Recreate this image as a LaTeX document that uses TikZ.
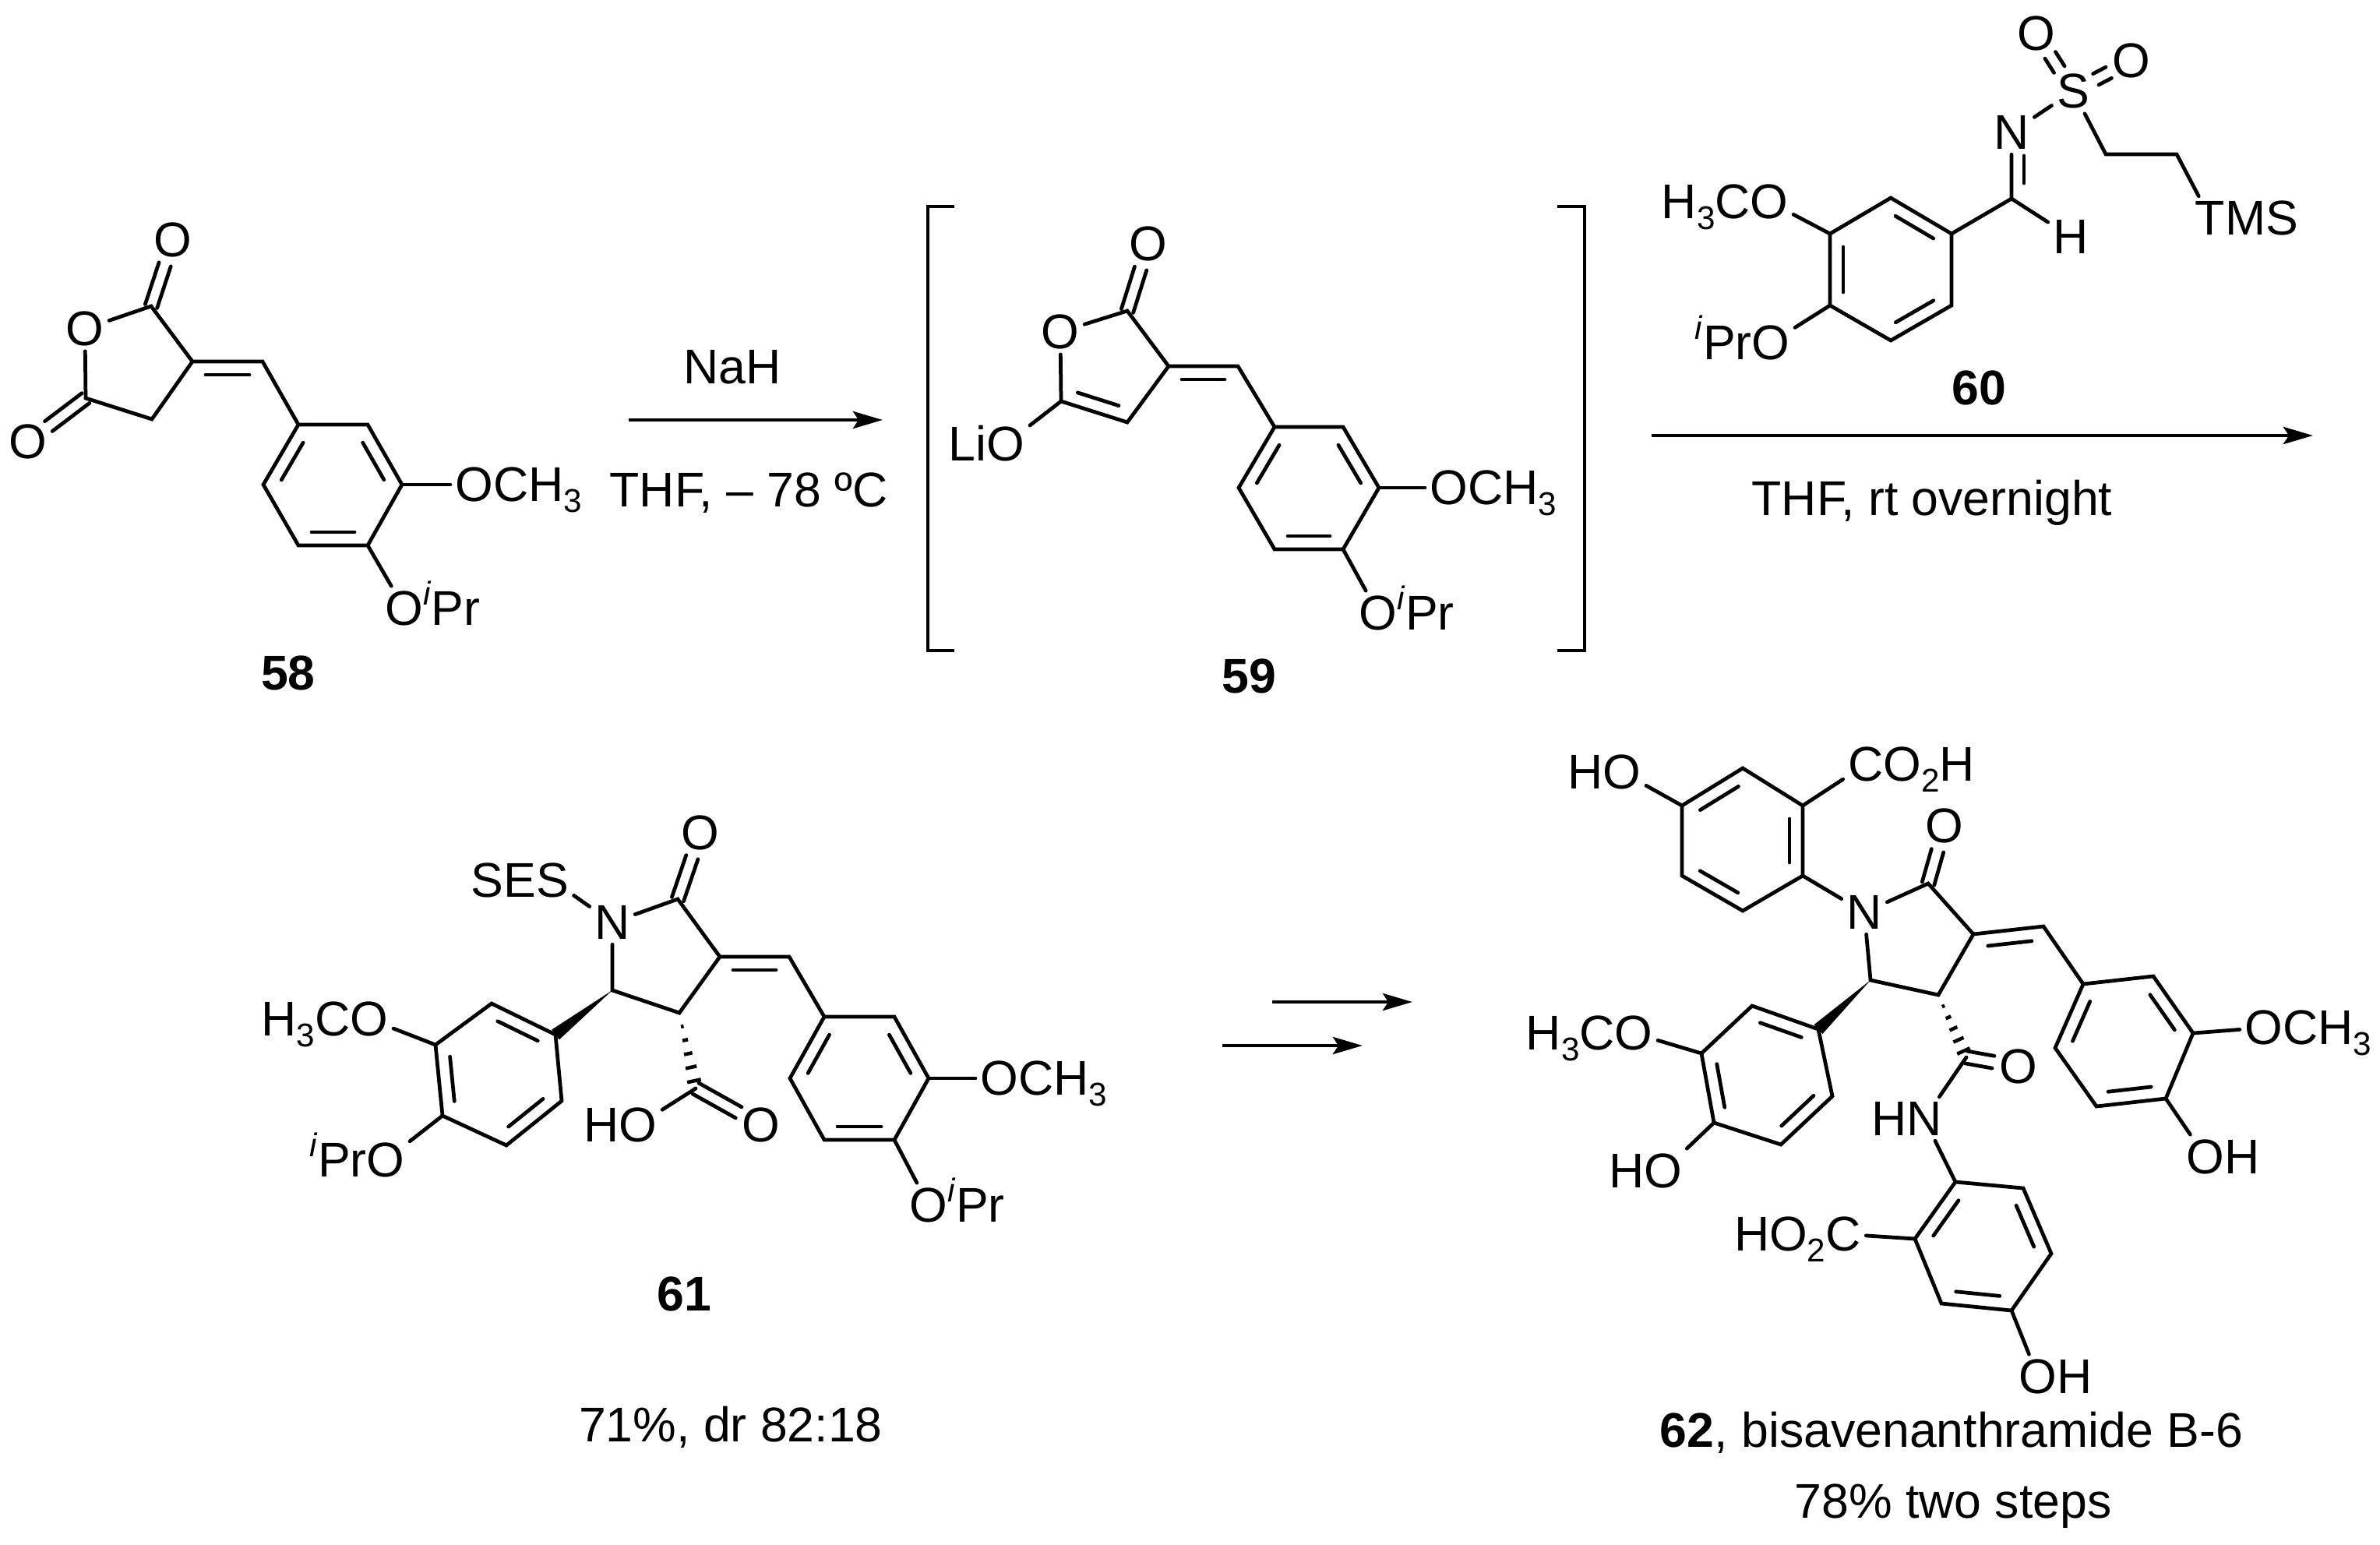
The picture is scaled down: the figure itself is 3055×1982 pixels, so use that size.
\documentclass[tikz,border=0pt]{standalone}
\usepackage{fontspec}
\setmainfont{Liberation Sans}
\usetikzlibrary{arrows.meta}
\usetikzlibrary{calc}
\newcommand{\chemsub}[1]{\raisebox{-.22em}{\fontsize{12}{14}\selectfont #1}}
\newcommand{\chemsup}[1]{\raisebox{.42em}{\fontsize{12}{14}\selectfont\itshape #1\kern.03em}}
\newcommand{\tailr}[1]{\smash{\rlap{#1}}}
\newcommand{\taill}[1]{\smash{\llap{#1}}}
\newcommand{\sidebond}[4][]{\draw[bond,#1] ($(#2)!#4!90:(#3)$) -- ($(#3)!#4!-90:(#2)$);}
\newcommand{\innerbond}[2]{\sidebond[shorten <=.17cm,shorten >=.17cm]{#1}{#2}{-.17cm}}
\newcommand{\twobond}[3][]{\sidebond[shorten >=.33cm,#1]{#2}{#3}{.08cm}\sidebond[shorten >=.33cm,#1]{#2}{#3}{-.08cm}}
\newcommand{\wedgebond}[2]{\fill ($(#2)!.08cm!90:(#1)$) -- ($(#2)!.08cm!-90:(#1)$) -- (#1) -- cycle;}
\newcommand{\hashbond}[2]{\foreach \pos in {.18,.36,.54,.72,.9}
  \draw[line width=1.3pt] ($(#1)!\pos!(#2)!\pos*0.1cm!90:(#2)$) -- ($(#1)!\pos!(#2)!\pos*0.1cm!-90:(#2)$);}
\tikzset{bond/.style = {line width=1.35pt, line cap=round},
         atom/.style = {inner sep=.06cm},
         txt/.style = {inner sep=0pt, anchor=base},
         cmpd/.style = {inner sep=0pt, font=\fontsize{17.8}{20}\selectfont\bfseries},
         brack/.style = {line width=1.35pt},
         rxn/.style = {line width=1.35pt, -{Stealth[length=.38cm,width=.22cm,inset=.07cm]}}}

\begin{document}
\begin{tikzpicture}[x=.01cm, y=-.01cm, font=\fontsize{17.8}{20}\selectfont]
  \useasboundingbox (0,0) rectangle (3055,1982);

  % 58
  \coordinate (a1) at (383,545); \coordinate (a2) at (472,545); \coordinate (a3) at (516,622);
  \coordinate (a4) at (472,700); \coordinate (a5) at (383,700); \coordinate (a6) at (338,622);
  \coordinate (ac2) at (194,393); \coordinate (ac3) at (247,464); \coordinate (ach) at (337,464);
  \coordinate (ac4) at (195,538); \coordinate (ac5) at (110,511);
  \node [atom] (ao1) at (222,308) {O};
  \node [atom] (ao2) at (109,422) {O};
  \node [atom] (ao3) at (36,567) {O};
  \node [atom] (ao4) at (609,622) {O\tailr{CH\chemsub{3}}};
  \node [atom] (ao5) at (519,781) {O\tailr{\chemsup{i}Pr}};
  \draw [bond] (a1) -- (a2) -- (a3) -- (a4) -- (a5) -- (a6) -- cycle;
  \innerbond{a2}{a3} \innerbond{a4}{a5} \innerbond{a6}{a1}
  \draw [bond] (ao2) -- (ac2) -- (ac3) -- (ac4) -- (ac5) -- (ao2);
  \draw [bond] (ac3) -- (ach) -- (a1);
  \innerbond{ac3}{ach}
  \twobond{ac2}{ao1} \twobond{ac5}{ao3}
  \draw [bond] (a3) -- (ao4);
  \draw [bond] (a4) -- (ao5);
  \node [cmpd] (n58) at (370,864) {58};

  % first arrow
  \coordinate (r1s) at (807,539); \coordinate (r1e) at (1133,539);
  \draw [rxn] (r1s) -- (r1e);
  \node [txt] (nah) at (940,492) {NaH};
  \node [txt] (thf1) at (961,650) {THF, – 78 ºC};

  % 59
  \coordinate (bl1) at (1225,265); \coordinate (bl2) at (1191,265);
  \coordinate (bl3) at (1191,835); \coordinate (bl4) at (1225,835);
  \coordinate (br1) at (1999,265); \coordinate (br2) at (2034,265);
  \coordinate (br3) at (2034,835); \coordinate (br4) at (1999,835);
  \draw [brack] (bl1) -- (bl2) -- (bl3) -- (bl4);
  \draw [brack] (br1) -- (br2) -- (br3) -- (br4);
  \coordinate (b1) at (1636,548); \coordinate (b2) at (1724,548); \coordinate (b3) at (1770,626);
  \coordinate (b4) at (1724,705); \coordinate (b5) at (1636,705); \coordinate (b6) at (1590,626);
  \coordinate (bc2) at (1447,399); \coordinate (bc3) at (1500,470); \coordinate (bch) at (1589,470);
  \coordinate (bc4) at (1447,542); \coordinate (bc5) at (1362,515);
  \node [atom] (bo1) at (1474,313) {O};
  \node [atom] (bo2) at (1361,426) {O};
  \node [atom] (bo3) at (1291,570) {\taill{Li}O};
  \node [atom] (bo4) at (1860,626) {O\tailr{CH\chemsub{3}}};
  \node [atom] (bo5) at (1769,787) {O\tailr{\chemsup{i}Pr}};
  \draw [bond] (b1) -- (b2) -- (b3) -- (b4) -- (b5) -- (b6) -- cycle;
  \innerbond{b2}{b3} \innerbond{b4}{b5} \innerbond{b6}{b1}
  \draw [bond] (bo2) -- (bc2) -- (bc3) -- (bc4) -- (bc5) -- (bo2);
  \draw [bond] (bc3) -- (bch) -- (b1);
  \innerbond{bc3}{bch} \innerbond{bc4}{bc5}
  \twobond{bc2}{bo1}
  \draw [bond] (bc5) -- (bo3);
  \draw [bond] (b3) -- (bo4);
  \draw [bond] (b4) -- (bo5);
  \node [cmpd] (n59) at (1603,868) {59};

  % 60 and second arrow
  \coordinate (c1) at (2427,254); \coordinate (c2) at (2505,300); \coordinate (c3) at (2505,392);
  \coordinate (c4) at (2427,437); \coordinate (c5) at (2349,392); \coordinate (c6) at (2349,300);
  \coordinate (cim) at (2582,255); \coordinate (ce1) at (2703,198); \coordinate (ce2) at (2794,198);
  \node [atom] (cn) at (2582,170) {N};
  \node [atom] (cs) at (2661,117) {S};
  \node [atom] (co1) at (2614,43) {O};
  \node [atom] (co2) at (2736,78) {O};
  \node [atom] (ch) at (2658,304) {H};
  \node [atom] (ct) at (2837,280) {T\tailr{MS}};
  \node [atom] (co3) at (2271,259) {\taill{H\chemsub{3}C}O};
  \node [atom] (co4) at (2273,440) {\taill{\chemsup{i}Pr}O};
  \draw [bond] (c1) -- (c2) -- (c3) -- (c4) -- (c5) -- (c6) -- cycle;
  \innerbond{c1}{c2} \innerbond{c3}{c4} \innerbond{c5}{c6}
  \draw [bond] (c2) -- (cim) -- (cn) -- (cs) -- (ce1) -- (ce2) -- (ct);
  \sidebond[shorten <=.2cm,shorten >=.3cm]{cim}{cn}{-.16cm}
  \draw [bond] (cim) -- (ch);
  \twobond[shorten <=.33cm]{cs}{co1} \twobond[shorten <=.33cm]{cs}{co2}
  \draw [bond] (c6) -- (co3);
  \draw [bond] (c5) -- (co4);
  \node [cmpd] (n60) at (2540,498) {60};
  \coordinate (r2s) at (2120,559); \coordinate (r2e) at (2969,559);
  \draw [rxn] (r2s) -- (r2e);
  \node [txt] (thf2) at (2480,661) {THF, rt overnight};

  % 61
  \coordinate (da1) at (713,1328); \coordinate (da2) at (721,1413); \coordinate (da3) at (650,1470);
  \coordinate (da4) at (568,1432); \coordinate (da5) at (559,1341); \coordinate (da6) at (631,1288);
  \coordinate (db1) at (1058,1305); \coordinate (db2) at (1148,1305); \coordinate (db3) at (1192,1384);
  \coordinate (db4) at (1148,1463); \coordinate (db5) at (1058,1463); \coordinate (db6) at (1014,1384);
  \coordinate (dc2) at (870,1154); \coordinate (dc3) at (924,1228); \coordinate (dch) at (1013,1228);
  \coordinate (dc4) at (872,1300); \coordinate (dc5) at (786,1271); \coordinate (dcx) at (893,1397);
  \node [atom] (dn) at (786,1184) {N};
  \node [atom] (do1) at (899,1069) {O};
  \node [atom] (ds) at (709,1130) {\taill{SE}S};
  \node [atom] (do2) at (474,1308) {\taill{H\chemsub{3}C}O};
  \node [atom] (do3) at (495,1489) {\taill{\chemsup{i}Pr}O};
  \node [atom] (do4) at (819,1444) {\taill{H}O};
  \node [atom] (do5) at (977,1444) {O};
  \node [atom] (do6) at (1283,1384) {O\tailr{CH\chemsub{3}}};
  \node [atom] (do7) at (1192,1547) {O\tailr{\chemsup{i}Pr}};
  \draw [bond] (da1) -- (da2) -- (da3) -- (da4) -- (da5) -- (da6) -- cycle;
  \innerbond{da2}{da3} \innerbond{da4}{da5} \innerbond{da6}{da1}
  \draw [bond] (db1) -- (db2) -- (db3) -- (db4) -- (db5) -- (db6) -- cycle;
  \innerbond{db2}{db3} \innerbond{db4}{db5} \innerbond{db6}{db1}
  \draw [bond] (dn) -- (dc2) -- (dc3) -- (dc4) -- (dc5) -- (dn);
  \draw [bond] (dc3) -- (dch) -- (db1);
  \innerbond{dc3}{dch}
  \twobond{dc2}{do1}
  \draw [bond] (dn) -- (ds);
  \wedgebond{dc5}{da1}
  \hashbond{dc4}{dcx}
  \draw [bond] (dcx) -- (do4);
  \twobond{dcx}{do5}
  \draw [bond] (da5) -- (do2);
  \draw [bond] (da4) -- (do3);
  \draw [bond] (db3) -- (do6);
  \draw [bond] (db4) -- (do7);
  \node [cmpd] (n61) at (878,1661) {61};
  \node [txt] (yield61) at (938,1850) {71\%, dr 82:18};

  % two arrows
  \coordinate (r3s) at (1633,1286); \coordinate (r3e) at (1813,1286);
  \coordinate (r4s) at (1569,1342); \coordinate (r4e) at (1749,1342);
  \draw [rxn] (r3s) -- (r3e);
  \draw [rxn] (r4s) -- (r4e);

  % 62
  \coordinate (ea1) at (2237,986); \coordinate (ea2) at (2314,1034); \coordinate (ea3) at (2314,1124);
  \coordinate (ea4) at (2237,1169); \coordinate (ea5) at (2159,1124); \coordinate (ea6) at (2159,1034);
  \coordinate (eb1) at (2334,1321); \coordinate (eb2) at (2352,1407); \coordinate (eb3) at (2286,1469);
  \coordinate (eb4) at (2200,1441); \coordinate (eb5) at (2184,1352); \coordinate (eb6) at (2249,1291);
  \coordinate (ed1) at (2674,1263); \coordinate (ed2) at (2764,1253); \coordinate (ed3) at (2815,1326);
  \coordinate (ed4) at (2780,1410); \coordinate (ed5) at (2691,1420); \coordinate (ed6) at (2638,1345);
  \coordinate (ef1) at (2510,1517); \coordinate (ef2) at (2597,1525); \coordinate (ef3) at (2633,1609);
  \coordinate (ef4) at (2582,1682); \coordinate (ef5) at (2492,1673); \coordinate (ef6) at (2458,1590);
  \coordinate (ec2) at (2475,1134); \coordinate (ec3) at (2533,1199); \coordinate (ech) at (2623,1189);
  \coordinate (ec4) at (2488,1277); \coordinate (ec5) at (2401,1258); \coordinate (ecx) at (2524,1357);
  \node [atom] (en1) at (2393,1171) {N};
  \node [atom] (eo1) at (2496,1060) {O};
  \node [atom] (eo2) at (2082,991) {\taill{H}O};
  \node [atom] (ec1) at (2395,981) {C\tailr{O\chemsub{2}H}};
  \node [atom] (eo3) at (2097,1326) {\taill{H\chemsub{3}C}O};
  \node [atom] (eo4) at (2135,1503) {\taill{H}O};
  \node [atom] (eo5) at (2591,1369) {O};
  \node [atom] (en2) at (2470,1436) {\taill{H}N};
  \node [atom] (eo6) at (2906,1319) {O\tailr{CH\chemsub{3}}};
  \node [atom] (eo7) at (2831,1485) {O\tailr{H}};
  \node [atom] (ec6) at (2366,1584) {\taill{HO\chemsub{2}}C};
  \node [atom] (eo8) at (2616,1767) {O\tailr{H}};
  \draw [bond] (ea1) -- (ea2) -- (ea3) -- (ea4) -- (ea5) -- (ea6) -- cycle;
  \innerbond{ea2}{ea3} \innerbond{ea4}{ea5} \innerbond{ea6}{ea1}
  \draw [bond] (eb1) -- (eb2) -- (eb3) -- (eb4) -- (eb5) -- (eb6) -- cycle;
  \innerbond{eb2}{eb3} \innerbond{eb4}{eb5} \innerbond{eb6}{eb1}
  \draw [bond] (ed1) -- (ed2) -- (ed3) -- (ed4) -- (ed5) -- (ed6) -- cycle;
  \innerbond{ed2}{ed3} \innerbond{ed4}{ed5} \innerbond{ed6}{ed1}
  \draw [bond] (ef1) -- (ef2) -- (ef3) -- (ef4) -- (ef5) -- (ef6) -- cycle;
  \innerbond{ef2}{ef3} \innerbond{ef4}{ef5} \innerbond{ef6}{ef1}
  \draw [bond] (en1) -- (ec2) -- (ec3) -- (ec4) -- (ec5) -- (en1);
  \draw [bond] (ec3) -- (ech) -- (ed1);
  \innerbond{ec3}{ech}
  \twobond{ec2}{eo1}
  \draw [bond] (ea3) -- (en1);
  \draw [bond] (ea6) -- (eo2);
  \draw [bond] (ea2) -- (ec1);
  \wedgebond{ec5}{eb1}
  \hashbond{ec4}{ecx}
  \twobond{ecx}{eo5}
  \draw [bond] (ecx) -- (en2) -- (ef1);
  \draw [bond] (eb5) -- (eo3);
  \draw [bond] (eb4) -- (eo4);
  \draw [bond] (ed3) -- (eo6);
  \draw [bond] (ed4) -- (eo7);
  \draw [bond] (ef6) -- (ec6);
  \draw [bond] (ef4) -- (eo8);
  \node [txt] (name62) at (2505,1857) {\textbf{62}, bisavenanthramide B-6};
  \node [txt] (yield62) at (2507,1948) {78\% two steps};
\end{tikzpicture}
\end{document}
